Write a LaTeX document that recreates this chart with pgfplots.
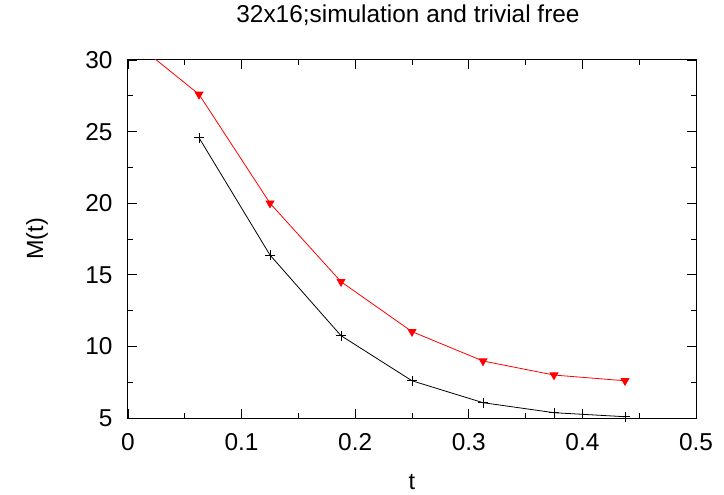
\documentclass[border=0pt]{standalone}
\usepackage{fontspec}
\setmainfont{Liberation Sans}
\usepackage{pgfplots}
\pgfplotsset{compat=1.18}
\begin{document}
\begin{tikzpicture}[font=\fontsize{24}{28}\selectfont]
\begin{axis}[name=ax, scale only axis, width=568bp, height=358bp,
  xmin=0, xmax=0.5, ymin=5, ymax=30,
  xtick={0,0.1,0.2,0.3,0.4,0.5}, ytick={5,10,15,20,25,30},
  minor x tick num=1, minor y tick num=1,
  tick align=inside, major tick length=9bp, minor tick length=5bp,
  tick style={black, line width=0.8bp},
  /pgf/number format/assume math mode=true,
  /pgf/number format/fixed, /pgf/number format/precision=1,
  axis line style={line width=1bp},
  every tick label/.append style={font=\fontsize{24.5}{28}\selectfont},
  yticklabel style={xshift=-12bp},
  xticklabel style={yshift=-12bp},
  title={32x16;simulation and trivial free},
  title style={at={(axis description cs:0.5,1)}, anchor=base, xshift=-4bp, yshift=32bp, font=\fontsize{24.5}{28}\selectfont},
  xlabel={t}, ylabel={M(t)},
  xlabel style={at={(axis description cs:0.5,-0.18)}, anchor=center, inner sep=1pt, font=\fontsize{23.5}{27}\selectfont},
  ylabel style={at={(axis description cs:-0.160,0.5)}, anchor=center, font=\fontsize{23.5}{27}\selectfont},
  clip=true,
]
\addplot[red, line width=0.8bp, mark=triangle*, mark size=4.5bp, mark options={rotate=180, solid}]
coordinates {(0,31.6) (0.0625,27.6) (0.125,20.0) (0.1875,14.52) (0.25,11.03) (0.3125,8.98) (0.375,8.0) (0.4375,7.6)};
\addplot[black, line width=0.8bp, mark=+, mark size=5bp, mark options={solid}]
coordinates {(0.0625,24.57) (0.125,16.38) (0.1875,10.75) (0.25,7.6) (0.3125,6.07) (0.375,5.37) (0.4375,5.09)};
\end{axis}
\pgfresetboundingbox
\path[use as bounding box] ([xshift=-128bp,yshift=-77bp]ax.south west) rectangle ([xshift=28bp,yshift=60bp]ax.north east);
\end{tikzpicture}
\end{document}
